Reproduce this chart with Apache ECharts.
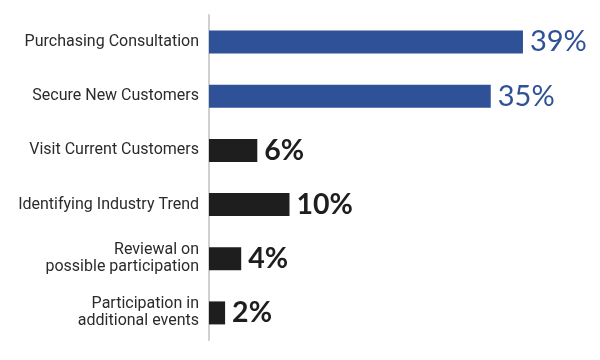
<!DOCTYPE html>
<html>
<head>
<meta charset="utf-8">
<script src="https://cdn.jsdelivr.net/npm/echarts@6/dist/echarts.min.js"></script>
<style>html,body{margin:0;padding:0;background:#fff;}#chart{width:600px;height:360px;}</style>
</head>
<body>
<div id="chart"></div>
<script>
var categories = [
  'Purchasing Consultation',
  'Secure New Customers',
  'Visit Current Customers',
  'Identifying Industry Trend',
  'Reviewal on\npossible participation',
  'Participation in\nadditional events'
];
var values = [39, 35, 6, 10, 4, 2];
var highlightCount = 2;

var BLUE = '#2f5198';
var DARK = '#1e1e1e';

var chart = echarts.init(document.getElementById('chart'), null, {renderer: 'canvas'});
chart.setOption({
  animation: false,
  grid: {left: 209, right: 69, top: 15, bottom: 20, containLabel: false},
  xAxis: {
    type: 'value', min: 0, max: 40, show: false
  },
  yAxis: {
    type: 'category',
    data: categories,
    inverse: true,
    axisLine: {show: true, lineStyle: {color: '#d0d0d0', width: 2}},
    axisTick: {show: false},
    axisLabel: {
      color: '#2b2b2b',
      fontFamily: 'Roboto',
      fontSize: 16,
      lineHeight: 17,
      margin: 10,
      align: 'right'
    }
  },
  series: [{
    type: 'bar',
    data: values,
    barWidth: 23,
    itemStyle: {
      color: function (p) { return p.dataIndex < highlightCount ? BLUE : DARK; }
    },
    label: {
      show: true,
      position: 'right',
      distance: 7,
      formatter: function (p) {
        return (p.dataIndex < highlightCount ? '{h|' : '{d|') + p.value + '%}';
      },
      rich: {
        h: {color: BLUE, fontFamily: 'Lato', fontSize: 29, fontWeight: 'normal'},
        d: {color: DARK, fontFamily: 'Lato', fontSize: 28.5, fontWeight: 'bold'}
      }
    }
  }]
});
</script>
</body>
</html>
